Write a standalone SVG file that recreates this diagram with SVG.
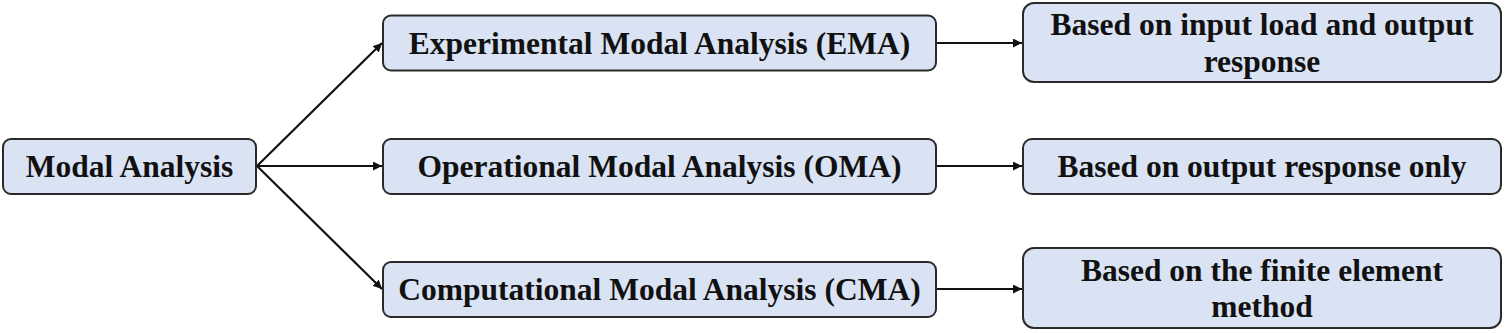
<svg xmlns="http://www.w3.org/2000/svg" width="1505" height="333" viewBox="0 0 1505 333">
<defs>
<marker id="ah" viewBox="0 0 10 10" refX="10" refY="5" markerWidth="9" markerHeight="9" markerUnits="userSpaceOnUse" orient="auto">
<path d="M0,0 L10,5 L0,10 z" fill="#111"/>
</marker>
</defs>
<style>
.box{fill:#dae3f3;stroke:#2a2a2a;stroke-width:2}
.t{font-family:"Liberation Serif","Times New Roman",serif;font-weight:bold;font-size:31.5px;fill:#111;text-anchor:middle}
.c{stroke:#111;stroke-width:2.2;fill:none;marker-end:url(#ah)}
</style>
<rect width="1505" height="333" fill="#fff"/>
<g id="connectors">
<line class="c" x1="257" y1="166" x2="382" y2="43"/>
<line class="c" x1="257" y1="166" x2="382" y2="166"/>
<line class="c" x1="257" y1="166" x2="382" y2="289"/>
<line class="c" x1="937" y1="43" x2="1022" y2="43"/>
<line class="c" x1="937" y1="166" x2="1022" y2="166"/>
<line class="c" x1="937" y1="289" x2="1022" y2="289"/>
</g>
<g id="modal">
<rect class="box" x="3" y="139" width="253" height="55" rx="8"/>
<text class="t" x="129.5" y="177">Modal Analysis</text>
</g>
<g id="ema">
<rect class="box" x="383" y="15.5" width="553" height="55" rx="8"/>
<text class="t" x="659.5" y="53.5">Experimental Modal Analysis (EMA)</text>
</g>
<g id="oma">
<rect class="box" x="383" y="139" width="553" height="55" rx="8"/>
<text class="t" x="659.5" y="177">Operational Modal Analysis (OMA)</text>
</g>
<g id="cma">
<rect class="box" x="383" y="262" width="553" height="55" rx="8"/>
<text class="t" x="659.5" y="300">Computational Modal Analysis (CMA)</text>
</g>
<g id="ema-desc">
<rect class="box" x="1023" y="3" width="478" height="79" rx="11"/>
<text class="t" x="1262" y="35">Based on input load and output</text>
<text class="t" x="1262" y="72">response</text>
</g>
<g id="oma-desc">
<rect class="box" x="1023" y="139" width="478" height="55" rx="9"/>
<text class="t" x="1262" y="177">Based on output response only</text>
</g>
<g id="cma-desc">
<rect class="box" x="1023" y="248" width="478" height="80" rx="11"/>
<text class="t" x="1262" y="281">Based on the finite element</text>
<text class="t" x="1262" y="317">method</text>
</g>
</svg>
